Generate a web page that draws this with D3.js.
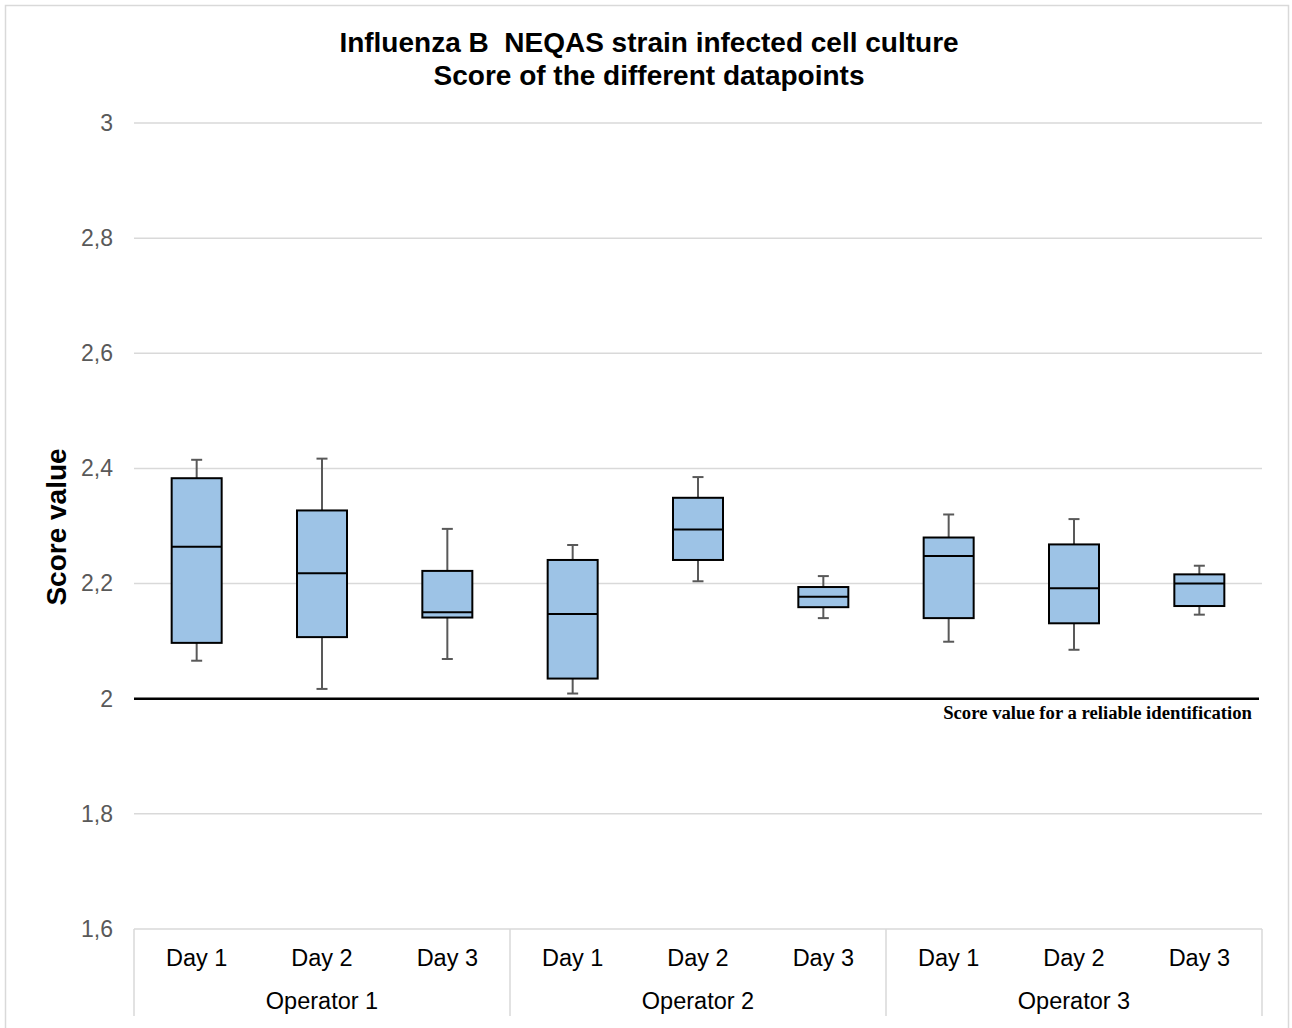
<!DOCTYPE html>
<html><head><meta charset="utf-8">
<script src="https://cdn.jsdelivr.net/npm/d3@7"></script>
<style>body{margin:0;background:#fff}svg{display:block}</style>
</head><body>
<script>
const operators = ["Operator 1","Operator 2","Operator 3"];
const days = ["Day 1","Day 2","Day 3"];
const whiskerLow  = [2.066, 2.017, 2.069, 2.009, 2.204, 2.140, 2.099, 2.085, 2.146];
const q1Values    = [2.097, 2.107, 2.141, 2.035, 2.241, 2.159, 2.140, 2.131, 2.161];
const medians     = [2.264, 2.218, 2.150, 2.147, 2.294, 2.177, 2.248, 2.192, 2.200];
const q3Values    = [2.383, 2.327, 2.222, 2.241, 2.349, 2.194, 2.280, 2.268, 2.216];
const whiskerHigh = [2.415, 2.417, 2.295, 2.267, 2.385, 2.213, 2.320, 2.312, 2.231];
const yTicks = [1.6,1.8,2,2.2,2.4,2.6,2.8,3];
const thresholdValue = 2;

(function(){
const W=1292,H=1028;
const svg=d3.select("body").append("svg").attr("width",W).attr("height",H);
svg.append("rect").attr("x",5.5).attr("y",5.5).attr("width",1283).attr("height",1040)
  .attr("fill","#fff").attr("stroke","#d9d9d9").attr("stroke-width",1.5);

const pL=134,pR=1262,pT=123,pB=929;
const FONT="Liberation Sans, Arial, sans-serif";
const cats=[];
operators.forEach(o=>days.forEach(d=>cats.push(o+"|"+d)));
const x=d3.scaleBand().domain(cats).range([pL,pR]);
const y=d3.scaleLinear().domain([1.6,3]).range([pB,pT]);

svg.append("g").selectAll("line").data(yTicks.filter(t=>t!==1.6 && t!==thresholdValue)).join("line")
  .attr("x1",pL).attr("x2",pR).attr("y1",d=>y(d)).attr("y2",d=>y(d))
  .attr("stroke","#d9d9d9").attr("stroke-width",1.5);

const fmt=d=>String(d).replace(".",",");
const yAxis=d3.axisLeft(y).tickValues(yTicks).tickFormat(fmt).tickSize(0).tickPadding(21);
const ya=svg.append("g").attr("transform",`translate(${pL},0)`).call(yAxis);
ya.select(".domain").remove();
ya.selectAll("text").attr("font-family",FONT).attr("font-size",23).attr("fill","#595959");

svg.append("line").attr("x1",pL).attr("x2",pR).attr("y1",pB).attr("y2",pB).attr("stroke","#d9d9d9").attr("stroke-width",1.5);
const opBand=d3.scaleBand().domain(operators).range([pL,pR]);
const seps=[...operators.map(o=>opBand(o)), pR];
svg.append("g").selectAll("line").data(seps).join("line")
  .attr("x1",d=>d).attr("x2",d=>d).attr("y1",pB).attr("y2",1016)
  .attr("stroke","#d9d9d9").attr("stroke-width",1.5);

svg.append("g").selectAll("text").data(cats).join("text")
  .attr("x",d=>x(d)+x.bandwidth()/2).attr("y",966).attr("text-anchor","middle")
  .attr("font-family",FONT).attr("font-size",23.5).attr("fill","#000")
  .text(d=>d.split("|")[1]);
svg.append("g").selectAll("text").data(operators).join("text")
  .attr("x",d=>opBand(d)+opBand.bandwidth()/2).attr("y",1009).attr("text-anchor","middle")
  .attr("font-family",FONT).attr("font-size",23.5).attr("fill","#000")
  .text(d=>d);

svg.append("line").attr("x1",pL).attr("x2",1259).attr("y1",y(thresholdValue)).attr("y2",y(thresholdValue))
  .attr("stroke","#000").attr("stroke-width",2.5);
svg.append("text").attr("x",1252).attr("y",719).attr("text-anchor","end")
  .attr("font-family","Liberation Serif, Times New Roman, serif").attr("font-weight","bold").attr("font-size",18.7)
  .text("Score value for a reliable identification");

const bw=50, cap=11;
const g=svg.append("g");
cats.forEach((c,i)=>{
  const cx=x(c)+x.bandwidth()/2;
  const wg="#595959";
  g.append("line").attr("x1",cx).attr("x2",cx).attr("y1",y(whiskerHigh[i])).attr("y2",y(q3Values[i])).attr("stroke",wg).attr("stroke-width",2);
  g.append("line").attr("x1",cx).attr("x2",cx).attr("y1",y(q1Values[i])).attr("y2",y(whiskerLow[i])).attr("stroke",wg).attr("stroke-width",2);
  g.append("line").attr("x1",cx-cap/2).attr("x2",cx+cap/2).attr("y1",y(whiskerHigh[i])).attr("y2",y(whiskerHigh[i])).attr("stroke",wg).attr("stroke-width",2);
  g.append("line").attr("x1",cx-cap/2).attr("x2",cx+cap/2).attr("y1",y(whiskerLow[i])).attr("y2",y(whiskerLow[i])).attr("stroke",wg).attr("stroke-width",2);
  g.append("rect").attr("x",cx-bw/2).attr("y",y(q3Values[i])).attr("width",bw).attr("height",y(q1Values[i])-y(q3Values[i]))
    .attr("fill","#9dc3e6").attr("stroke","#000").attr("stroke-width",2);
  g.append("line").attr("x1",cx-bw/2).attr("x2",cx+bw/2).attr("y1",y(medians[i])).attr("y2",y(medians[i])).attr("stroke","#000").attr("stroke-width",2);
});

const t=svg.append("text").attr("text-anchor","middle").attr("font-family",FONT)
  .attr("font-weight","bold").attr("font-size",28).attr("fill","#000").style("white-space","pre");
t.append("tspan").attr("x",649).attr("y",52).text("Influenza B  NEQAS strain infected cell culture");
t.append("tspan").attr("x",649).attr("y",85).text("Score of the different datapoints");

svg.append("text").attr("transform","translate(66,527) rotate(-90)").attr("text-anchor","middle")
  .attr("font-family",FONT).attr("font-weight","bold").attr("font-size",28)
  .text("Score value");
})();
</script>
</body></html>
